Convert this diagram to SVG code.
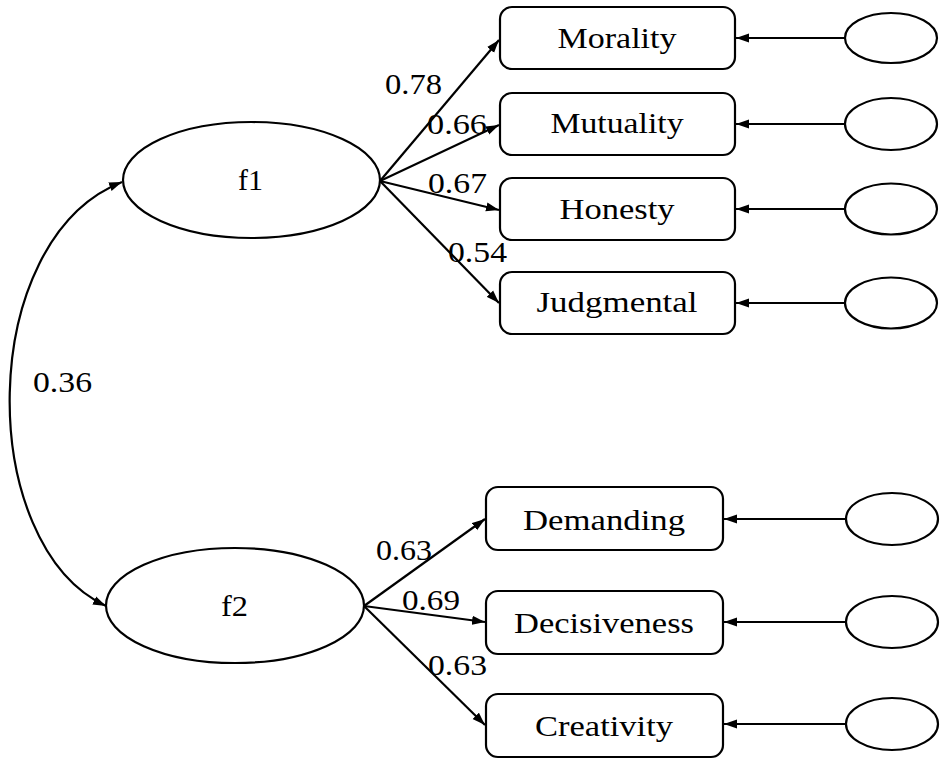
<svg xmlns="http://www.w3.org/2000/svg" width="942" height="761" viewBox="0 0 942 761">
<defs>
<marker id="ah" markerUnits="userSpaceOnUse" markerWidth="14" markerHeight="10" refX="13" refY="5" orient="auto-start-reverse">
<path d="M0,0.5 L13,5 L0,9.5 Z" fill="#000"/>
</marker>
<style>
.n{fill:#fff;stroke:#000;stroke-width:2.2}
.t{font-family:"Liberation Serif","Times New Roman",serif;font-size:30px;fill:#000}
.m{text-anchor:middle}
.c{fill:none;stroke:#000;stroke-width:2.2;marker-end:url(#ah)}
</style>
</defs>
<rect width="942" height="761" fill="#fff"/>
<g id="connectors">
<path class="c" d="M122,182 C-25,240 -25,545 106,606" style="marker-start:url(#ah)"/>
<line class="c" x1="380" y1="181" x2="499" y2="40"/>
<line class="c" x1="380" y1="181" x2="499" y2="125"/>
<line class="c" x1="380" y1="181" x2="499" y2="210"/>
<line class="c" x1="380" y1="181" x2="499" y2="303"/>
<line class="c" x1="364" y1="606" x2="485" y2="519"/>
<line class="c" x1="364" y1="606" x2="485" y2="622"/>
<line class="c" x1="364" y1="606" x2="485" y2="725"/>
<line class="c" x1="845" y1="38" x2="736" y2="38"/>
<line class="c" x1="845" y1="124" x2="736" y2="124"/>
<line class="c" x1="845" y1="209" x2="736" y2="209"/>
<line class="c" x1="845" y1="303" x2="736" y2="303"/>
<line class="c" x1="846" y1="519" x2="724" y2="519"/>
<line class="c" x1="846" y1="622" x2="724" y2="622"/>
<line class="c" x1="846" y1="724" x2="724" y2="724"/>
<text class="t" x="385" y="94" textLength="57" lengthAdjust="spacingAndGlyphs">0.78</text>
<text class="t" x="427" y="134" textLength="60" lengthAdjust="spacingAndGlyphs">0.66</text>
<text class="t" x="428" y="193" textLength="59" lengthAdjust="spacingAndGlyphs">0.67</text>
<text class="t" x="448" y="262" textLength="59" lengthAdjust="spacingAndGlyphs">0.54</text>
<text class="t" x="376" y="560" textLength="56" lengthAdjust="spacingAndGlyphs">0.63</text>
<text class="t" x="402" y="610" textLength="58" lengthAdjust="spacingAndGlyphs">0.69</text>
<text class="t" x="428" y="675" textLength="59" lengthAdjust="spacingAndGlyphs">0.63</text>
<text class="t" x="33" y="392" textLength="59" lengthAdjust="spacingAndGlyphs">0.36</text>
</g>
<g id="f1"><ellipse class="n" cx="251.5" cy="180" rx="128.5" ry="58"/><text class="t" x="238" y="190" textLength="25" lengthAdjust="spacingAndGlyphs">f1</text></g>
<g id="f2"><ellipse class="n" cx="235" cy="605.5" rx="129" ry="57.5"/><text class="t" x="221" y="616" textLength="27" lengthAdjust="spacingAndGlyphs">f2</text></g>
<g id="morality"><rect class="n" x="500" y="7" width="235" height="62" rx="12"/><text class="t m" x="617" y="48" textLength="119" lengthAdjust="spacingAndGlyphs">Morality</text></g>
<g id="mutuality"><rect class="n" x="500" y="93" width="235" height="62" rx="12"/><text class="t m" x="617" y="133" textLength="133" lengthAdjust="spacingAndGlyphs">Mutuality</text></g>
<g id="honesty"><rect class="n" x="500" y="178" width="235" height="62" rx="12"/><text class="t m" x="617" y="219" textLength="115" lengthAdjust="spacingAndGlyphs">Honesty</text></g>
<g id="judgmental"><rect class="n" x="500" y="272" width="235" height="62" rx="12"/><text class="t m" x="617" y="312" textLength="161" lengthAdjust="spacingAndGlyphs">Judgmental</text></g>
<g id="demanding"><rect class="n" x="486" y="487" width="237" height="63" rx="12"/><text class="t m" x="604" y="530" textLength="162" lengthAdjust="spacingAndGlyphs">Demanding</text></g>
<g id="decisiveness"><rect class="n" x="486" y="591" width="237" height="63" rx="12"/><text class="t m" x="604" y="633" textLength="180" lengthAdjust="spacingAndGlyphs">Decisiveness</text></g>
<g id="creativity"><rect class="n" x="486" y="694" width="237" height="63" rx="12"/><text class="t m" x="604" y="736" textLength="138" lengthAdjust="spacingAndGlyphs">Creativity</text></g>
<g id="e1"><ellipse class="n" cx="891" cy="38" rx="46" ry="25"/></g>
<g id="e2"><ellipse class="n" cx="891" cy="124" rx="46" ry="26"/></g>
<g id="e3"><ellipse class="n" cx="891" cy="209" rx="46" ry="25.5"/></g>
<g id="e4"><ellipse class="n" cx="891" cy="303" rx="46" ry="25.5"/></g>
<g id="e5"><ellipse class="n" cx="892" cy="519" rx="46" ry="26"/></g>
<g id="e6"><ellipse class="n" cx="892" cy="622" rx="46" ry="26"/></g>
<g id="e7"><ellipse class="n" cx="892" cy="724" rx="46" ry="26"/></g>
</svg>
